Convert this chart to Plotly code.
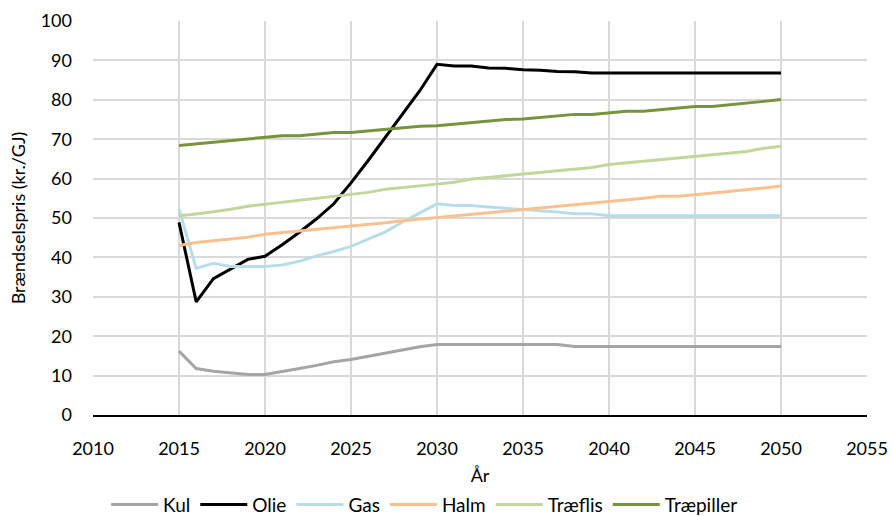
import plotly.graph_objects as go

years = list(range(2015, 2051))

kul = [16.2, 11.8, 11.1, 10.7, 10.3, 10.3, 11.0, 11.8, 12.6, 13.5, 14.1, 14.9, 15.7, 16.5, 17.3, 17.9,
       17.9, 17.9, 17.9, 17.9, 17.9, 17.9, 17.9, 17.4, 17.4, 17.4, 17.4, 17.4, 17.4, 17.4, 17.4,
       17.4, 17.4, 17.4, 17.4, 17.4]
olie = [48.9, 28.7, 34.6, 37.1, 39.5, 40.3, 43.2, 46.4, 49.8, 53.6, 58.9, 64.6, 70.5, 76.6, 82.3, 89.0,
        88.6, 88.6, 88.1, 88.0, 87.6, 87.5, 87.2, 87.1, 86.8, 86.8, 86.8, 86.8, 86.8, 86.8, 86.8,
        86.8, 86.8, 86.8, 86.8, 86.8]
gas = [52.3, 37.2, 38.5, 37.7, 37.7, 37.7, 38.1, 39.0, 40.4, 41.5, 42.8, 44.6, 46.5, 49.0, 51.3, 53.6,
       53.2, 53.2, 52.8, 52.5, 52.1, 51.9, 51.5, 51.1, 51.1, 50.6, 50.6, 50.6, 50.6, 50.6, 50.6,
       50.6, 50.6, 50.6, 50.6, 50.6]
halm = [43.0, 43.8, 44.2, 44.6, 45.1, 45.9, 46.3, 46.7, 47.2, 47.6, 48.0, 48.4, 48.8, 49.3, 49.7, 50.1,
        50.5, 50.9, 51.3, 51.7, 52.1, 52.5, 52.9, 53.4, 53.8, 54.2, 54.6, 55.0, 55.5, 55.5, 55.9,
        56.3, 56.7, 57.1, 57.6, 58.1]
traeflis = [50.6, 51.0, 51.6, 52.2, 53.0, 53.5, 54.0, 54.4, 55.0, 55.5, 56.0, 56.5, 57.3, 57.7, 58.2, 58.6,
            59.1, 59.9, 60.3, 60.7, 61.1, 61.6, 62.0, 62.4, 62.8, 63.6, 64.0, 64.4, 64.8, 65.2, 65.7,
            66.1, 66.5, 66.9, 67.7, 68.2]
traepiller = [68.4, 68.8, 69.2, 69.7, 70.1, 70.5, 70.9, 70.9, 71.3, 71.7, 71.7, 72.1, 72.5, 72.9, 73.3, 73.4,
              73.8, 74.2, 74.6, 75.0, 75.1, 75.5, 75.9, 76.3, 76.3, 76.7, 77.1, 77.1, 77.5, 77.9, 78.3,
              78.3, 78.7, 79.1, 79.6, 80.1]

series = [
    ("Kul", kul, "#A5A5A5"),
    ("Olie", olie, "#000000"),
    ("Gas", gas, "#B7DEE8"),
    ("Halm", halm, "#FAC090"),
    ("Træflis", traeflis, "#C3D69B"),
    ("Træpiller", traepiller, "#77933C"),
]

font_family = "Lato, Open Sans, sans-serif"

fig = go.Figure()
for name, vals, color in series:
    fig.add_trace(go.Scatter(x=years, y=vals, name=name, mode="lines",
                             line=dict(color=color, width=3)))

fig.update_layout(
    width=892, height=516,
    margin=dict(l=93, r=25, t=21, b=101),
    paper_bgcolor="white", plot_bgcolor="white",
    font=dict(family=font_family, size=18, color="#000000"),
    showlegend=True,
    legend=dict(orientation="h", xref="container", yref="container",
                x=0.476, xanchor="center", y=0.022, yanchor="middle",
                font=dict(size=19), itemwidth=47, tracegroupgap=0),
    xaxis=dict(range=[2010, 2055], dtick=5, tick0=2010,
               showgrid=True, gridcolor="#D9D9D9", gridwidth=1.5,
               showline=True, linecolor="#000000", linewidth=2,
               zeroline=False, ticks="", ticklabelstandoff=16, automargin=False,
               title=dict(text="År", standoff=21, font=dict(size=18))),
    yaxis=dict(range=[0, 100], dtick=10,
               showgrid=True, gridcolor="#D9D9D9", gridwidth=1.5,
               showline=False, zeroline=False, ticks="", ticklabelstandoff=20, automargin=False,
               title=dict(text="Brændselspris (kr./GJ)", standoff=10, font=dict(size=18))),
)

fig.write_html("out.html")
